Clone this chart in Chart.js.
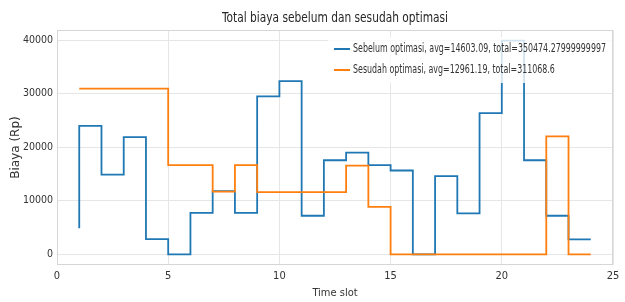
<!DOCTYPE html>
<html>
<head>
    <title>Total biaya sebelum dan sesudah optimasi</title>
    <script src="https://cdn.jsdelivr.net/npm/chart.js@4"></script>
    <style>
        html, body { margin: 0; padding: 0; background: #fff; }
        .chart-container { width: 625px; height: 302px; }
    </style>
</head>
<body>
    <div class="chart-container">
        <canvas id="biayaChart"></canvas>
    </div>

    <script>
    // data
    const timeSlots = [1, 2, 3, 4, 5, 6, 7, 8, 9, 10, 11, 12, 13, 14, 15, 16, 17, 18, 19, 20, 21, 22, 23, 24];
    const sebelum = [4850, 24000, 14900, 21900, 2850, 0, 7750, 11800, 7750, 29500, 32350, 7200,
                     17570, 19000, 16640, 15650, 0, 14600, 7640, 26380, 39900, 17570, 7200, 2800];
    const sesudah = [30930, 30930, 30930, 30930, 30930, 16640, 16640, 11700, 16640, 11600, 11600, 11600,
                     11600, 16580, 8870, 0, 0, 0, 0, 0, 0, 0, 22040, 0];
    const seriesLabels = [
        'Sebelum optimasi, avg=14603.09, total=350474.27999999997',
        'Sesudah optimasi, avg=12961.19, total=311068.6'
    ];
    const xTicks = [0, 5, 10, 15, 20, 25];
    const yTicks = [0, 10000, 20000, 30000, 40000];
    const chartTitle = 'Total biaya sebelum dan sesudah optimasi';

    const narrow = "'DejaVu Sans Condensed', 'Liberation Sans Narrow', sans-serif";
    const colors = ['#1f77b4', '#ff7f0e'];

    function toPoints(values) {
        return timeSlots.map((t, i) => ({ x: t, y: values[i] }));
    }

    // text squeezed sideways, the original font is narrower than what we have
    function squeezedText(ctx, text, x, y, scaleX) {
        ctx.save();
        ctx.translate(x, y);
        ctx.scale(scaleX, 1);
        ctx.fillText(text, 0, 0);
        ctx.restore();
    }

    // title, frame and legend box like the matplotlib original
    const decorations = {
        id: 'decorations',
        afterDatasetsDraw(chart) {
            const ctx = chart.ctx;
            const area = chart.chartArea;
            ctx.save();
            ctx.strokeStyle = '#d6d6d6';
            ctx.lineWidth = 1;
            ctx.strokeRect(area.left + 0.5, area.top + 0.5, area.right - area.left - 1, area.bottom - area.top - 1);

            // legend
            ctx.fillStyle = 'rgba(255,255,255,0.8)';
            ctx.fillRect(328, 37, 284, 46);
            ctx.font = '12px ' + narrow;
            ctx.textBaseline = 'middle';
            ctx.textAlign = 'left';
            const longest = ctx.measureText(seriesLabels[0]).width;
            const sx = 253 / longest;
            seriesLabels.forEach((label, i) => {
                const y = 49 + i * 21;
                ctx.strokeStyle = colors[i];
                ctx.lineWidth = 2;
                ctx.beginPath();
                ctx.moveTo(334, y);
                ctx.lineTo(350, y);
                ctx.stroke();
                ctx.fillStyle = '#333';
                squeezedText(ctx, label, 353, y, sx);
            });

            // title
            ctx.font = '14px ' + narrow;
            ctx.fillStyle = '#262626';
            ctx.textAlign = 'center';
            const tw = ctx.measureText(chartTitle).width;
            squeezedText(ctx, chartTitle, (area.left + area.right) / 2, 18, 226 / tw);
            ctx.restore();
        }
    };

    const ctx = document.getElementById('biayaChart').getContext('2d');
    new Chart(ctx, {
        type: 'line',
        data: {
            datasets: [
                {
                    label: seriesLabels[0],
                    data: toPoints(sebelum),
                    borderColor: colors[0],
                    borderWidth: 1.8,
                    stepped: 'after',
                    pointRadius: 0,
                    fill: false,
                    order: 1
                },
                {
                    label: seriesLabels[1],
                    data: toPoints(sesudah),
                    borderColor: colors[1],
                    borderWidth: 1.8,
                    stepped: 'after',
                    pointRadius: 0,
                    fill: false,
                    order: 0
                }
            ]
        },
        options: {
            responsive: true,
            maintainAspectRatio: false,
            animation: false,
            layout: { padding: { top: 30, right: 12, left: 0, bottom: 0 } },
            plugins: {
                legend: { display: false },
                title: { display: false },
                tooltip: { enabled: false }
            },
            scales: {
                x: {
                    type: 'linear',
                    min: 0,
                    max: 25,
                    afterBuildTicks: scale => { scale.ticks = xTicks.map(v => ({ value: v })); },
                    afterFit: scale => { scale.height = 37; },
                    grid: { color: '#e6e6e6', drawTicks: false },
                    border: { display: false },
                    ticks: {
                        padding: 5,
                        color: '#333',
                        font: { family: narrow, size: 11 }
                    },
                    title: {
                        display: true,
                        text: 'Time slot',
                        color: '#333',
                        font: { family: narrow, size: 11 },
                        padding: { top: 0, bottom: 2 }
                    }
                },
                y: {
                    min: -2000,
                    max: 41900,
                    afterBuildTicks: scale => { scale.ticks = yTicks.map(v => ({ value: v })); },
                    afterFit: scale => { scale.width = 57; },
                    grid: { color: '#e6e6e6', drawTicks: false },
                    border: { display: false },
                    ticks: {
                        padding: 4,
                        color: '#333',
                        font: { family: narrow, size: 10.5 },
                        callback: v => String(v)
                    },
                    title: {
                        display: true,
                        text: 'Biaya (Rp)',
                        color: '#333',
                        font: { family: "'DejaVu Sans', sans-serif", size: 12 },
                        padding: { top: 9, bottom: 0 }
                    }
                }
            }
        },
        plugins: [decorations]
    });
    </script>
</body>
</html>
